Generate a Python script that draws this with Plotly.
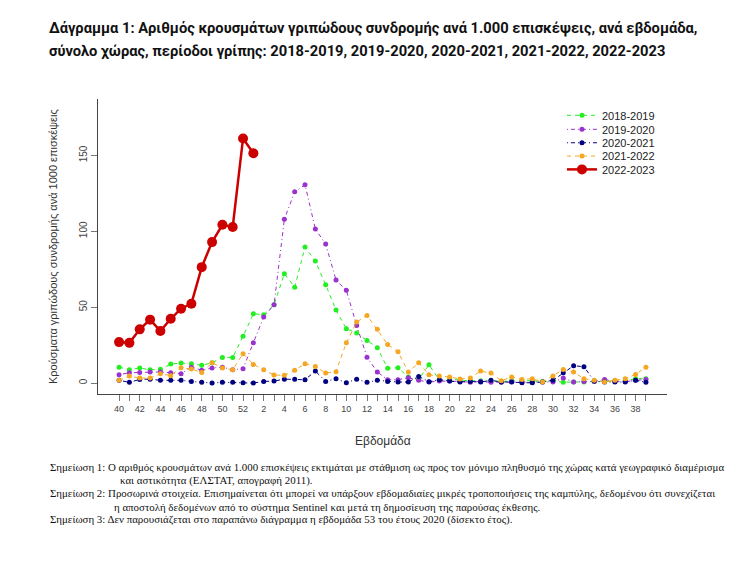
import plotly.graph_objects as go

weeks = [str(w) for w in list(range(40, 53)) + list(range(1, 40))]
tick_labels = [w if i % 2 == 0 else "" for i, w in enumerate(weeks)]

s2018_2019 = [10.5, 8.8, 9.9, 8.8, 9.1, 12.5, 13.2, 12.7, 11.7, 13.4, 16.9, 16.9, 30.8,
              45.7, 45.0, 51.6, 72.1, 63.2, 89.6, 80.4, 64.8, 48.1, 35.8, 33.0, 28.1, 23.3,
              9.7, 10.1, 4.0, 2.5, 12.1, 2.0, 2.5, 2.0, 1.5, 1.5, 1.5, 1.0, 1.5, 1.5,
              1.5, 1.0, 1.5, 0.5, 0.7, 0.7, 1.0, 1.5, 1.5, 1.5, 2.9, 2.9]
s2019_2020 = [5.5, 6.8, 7.0, 7.3, 7.3, 6.8, 6.2, 10.5, 8.5, 9.9, 10.5, 8.8, 9.5,
              26.6, 43.5, 51.6, 108.0, 126.0, 130.7, 101.5, 91.6, 67.9, 61.1, 38.0, 17.1, 7.3,
              2.2, 2.2, 3.5, 1.8, 0.7, 1.3, 1.3, 1.1, 0.5, 1.1, 0.5, 0.5, 0.9, 0.5,
              0.5, 0.7, 0.7, 3.3, 0.7, 1.0, 1.0, 2.4, 1.0, 1.0, 1.8, 2.4]
s2020_2021 = [1.8, 0.5, 2.4, 2.6, 1.8, 1.8, 1.8, 1.1, 0.5, 0.0, 0.5, 0.5, 0.2,
              0.0, 1.1, 1.3, 2.6, 2.6, 2.2, 7.9, 1.1, 2.9, 0.2, 2.6, 0.5, 1.8,
              1.1, 0.7, 0.7, 4.4, 0.9, 2.2, 1.3, 0.7, 1.1, 0.7, 1.8, 0.7, 0.7, 0.2,
              0.2, 0.7, 1.8, 6.8, 11.4, 10.8, 1.3, 0.7, 0.7, 0.7, 1.8, 0.5]
s2021_2022 = [1.8, 4.6, 3.3, 3.3, 6.2, 4.9, 10.1, 9.2, 7.0, 13.4, 9.9, 8.8, 19.4,
              12.3, 8.8, 5.3, 5.1, 8.4, 12.8, 11.0, 6.6, 7.5, 26.5, 40.2, 44.6, 35.4,
              25.4, 20.6, 7.3, 13.4, 5.5, 4.6, 4.0, 2.7, 3.4, 7.9, 6.6, 1.5, 4.0, 2.4,
              2.9, 0.7, 4.6, 9.0, 7.3, 2.9, 1.8, 0.7, 1.8, 2.9, 5.7, 10.5]
s2022_2023 = [27.0, 26.5, 35.4, 41.8, 34.3, 42.4, 49.0, 52.3, 76.4, 92.9, 104.3, 102.8,
              161.2, 151.5]

series = [
    ("2018-2019", s2018_2019, "#22EE22", "4px,4px", 1, 5),
    ("2019-2020", s2019_2020, "#9A32CD", "1px,3px,4px,3px", 1, 5),
    ("2020-2021", s2020_2021, "#000080", "1px,3px,4px,3px", 1, 5),
    ("2021-2022", s2021_2022, "#F5A623", "4px,4px", 1, 5),
    ("2022-2023", s2022_2023, "#CD0000", "solid", 2.5, 10),
]

# page offset of the figure (browser body margin)
OFF = 8
W, H = 739 - 2 * OFF, 584 - 2 * OFF
# plot area in page pixels
L, R, T, B = 98.2 - OFF, 667 - OFF, 99 - OFF, 393.6 - OFF

def px(xp):
    return (xp - OFF - L) / (R - L)

def py(yp):
    return (B - (yp - OFF)) / (B - T)

legend_y = [115.3, 129.3, 142.7, 156, 169.3]

fig = go.Figure()
layout_legends = {}
for k, (name, vals, col, dash, lw, ms) in enumerate(series):
    lname = "legend" if k == 0 else f"legend{k + 1}"
    fig.add_trace(go.Scatter(
        x=weeks[:len(vals)], y=vals, name=name, mode="lines+markers",
        line=dict(color=col, width=lw, dash=dash),
        marker=dict(color=col, size=ms),
        legend=lname,
    ))
    layout_legends[lname] = dict(
        x=px(562), y=py(legend_y[k]), xanchor="left", yanchor="middle",
        font=dict(size=11, color="#222"), bgcolor="rgba(0,0,0,0)",
    )

fig.update_layout(
    width=W, height=H,
    margin=dict(l=L, r=W - R, t=T, b=H - B, pad=0),
    paper_bgcolor="white", plot_bgcolor="white",
    font=dict(family="Liberation Sans, Arial, sans-serif", color="#222"),
    showlegend=True,
    **layout_legends,
)
fig.update_xaxes(
    type="category", range=[-2.04, 53.04],
    tickmode="array", tickvals=weeks, ticktext=tick_labels,
    showline=True, linecolor="#444", linewidth=1,
    ticks="outside", ticklen=6, tickcolor="#777", tickwidth=1,
    tickfont=dict(size=9, color="#444"),
    showgrid=False, zeroline=False,
)
fig.update_yaxes(
    range=[-7.2, 187.2], tickmode="array", tickvals=[0, 50, 100, 150],
    tickangle=-90,
    showline=True, linecolor="#444", linewidth=1,
    ticks="outside", ticklen=6, tickcolor="#777", tickwidth=1,
    tickfont=dict(size=10, color="#444"),
    showgrid=False, zeroline=False,
)

title_font = dict(family="Roboto, Noto Sans, sans-serif", size=14.7, color="#111")
fig.add_annotation(text="<b>Δάγραμμα 1: Αριθμός κρουσμάτων γριπώδους συνδρομής ανά 1.000 επισκέψεις, ανά εβδομάδα,</b>",
                   xref="paper", yref="paper", x=px(47), y=py(28), xanchor="left", yanchor="middle",
                   showarrow=False, font=title_font)
fig.add_annotation(text="<b>σύνολο χώρας, περίοδοι γρίπης: 2018-2019, 2019-2020, 2020-2021, 2021-2022, 2022-2023</b>",
                   xref="paper", yref="paper", x=px(47), y=py(51), xanchor="left", yanchor="middle",
                   showarrow=False, font=title_font)

fig.add_annotation(text="Κρούσματα γριπώδους συνδρομής ανά 1000 επισκέψεις",
                   xref="paper", yref="paper", x=px(53), y=py(246), xanchor="center", yanchor="middle",
                   textangle=-90, showarrow=False, font=dict(size=11, color="#333"))
fig.add_annotation(text="Εβδομάδα", xref="paper", yref="paper", x=px(383), y=py(441),
                   xanchor="center", yanchor="middle", showarrow=False,
                   font=dict(size=12, color="#333"))

notes = [
    (48, 467, "Σημείωση 1: Ο αριθμός κρουσμάτων ανά 1.000 επισκέψεις εκτιμάται με στάθμιση ως προς τον μόνιμο πληθυσμό της χώρας κατά γεωγραφικό διαμέρισμα"),
    (118, 480, "και αστικότητα (ΕΛΣΤΑΤ, απογραφή 2011)."),
    (48, 493, "Σημείωση 2: Προσωρινά στοιχεία. Επισημαίνεται ότι μπορεί να υπάρξουν εβδομαδιαίες μικρές τροποποιήσεις της καμπύλης, δεδομένου ότι συνεχίζεται"),
    (112, 506, "η αποστολή δεδομένων από το σύστημα Sentinel και μετά τη δημοσίευση της παρούσας έκθεσης."),
    (48, 519, "Σημείωση 3: Δεν παρουσιάζεται στο παραπάνω διάγραμμα η εβδομάδα 53 του έτους 2020 (δίσεκτο έτος)."),
]
for xp, yp, t in notes:
    fig.add_annotation(text=t, xref="paper", yref="paper", x=px(xp), y=py(yp),
                       xanchor="left", yanchor="middle", showarrow=False,
                       font=dict(family="Liberation Serif, Times New Roman, serif", size=10.9, color="#111"))

fig.write_html("out.html")
